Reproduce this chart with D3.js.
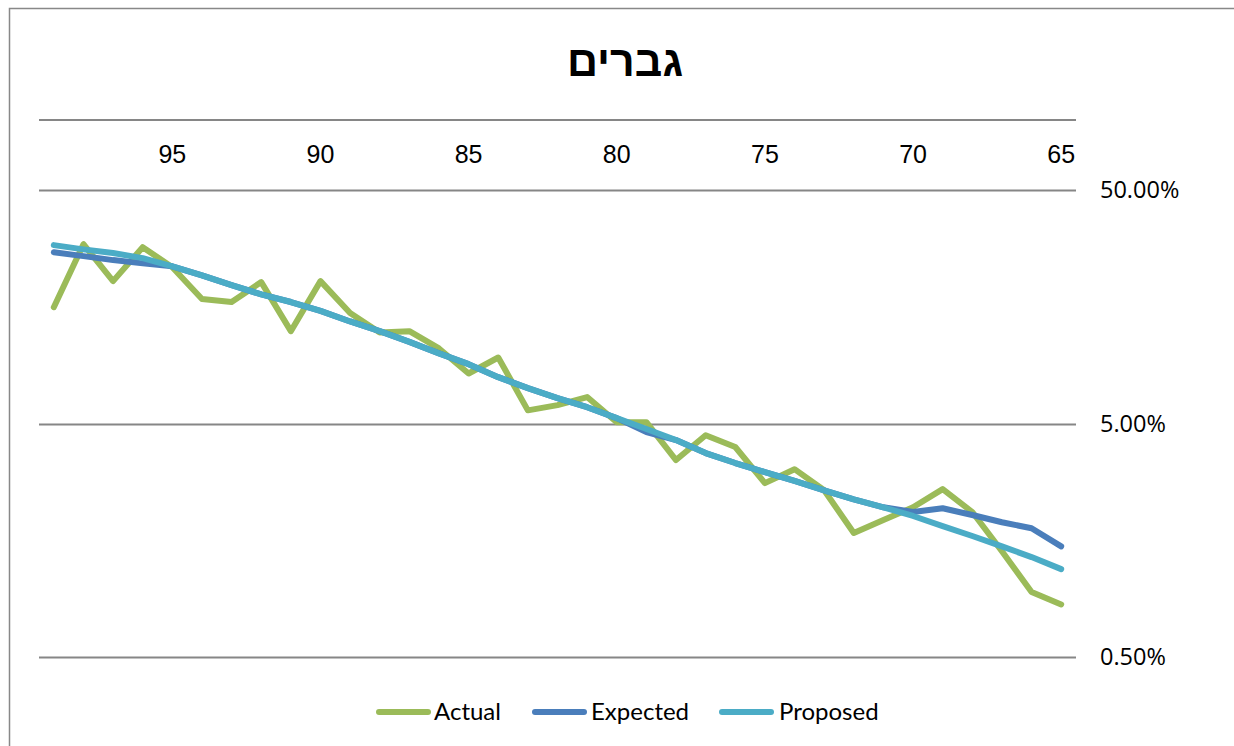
<!DOCTYPE html>
<html>
<head>
<meta charset="utf-8">
<script src="https://cdn.jsdelivr.net/npm/d3@7/dist/d3.min.js"></script>
<style>
  html, body { margin: 0; padding: 0; background: #fff; }
  svg { display: block; }
</style>
</head>
<body>
<svg id="chart" width="1234" height="746"></svg>
<script>
// Ages on the category axis (65 at the right, 99 at the left)
const ages = [65, 66, 67, 68, 69, 70, 71, 72, 73, 74, 75, 76, 77, 78, 79, 80, 81, 82,
              83, 84, 85, 86, 87, 88, 89, 90, 91, 92, 93, 94, 95, 96, 97, 98, 99];

// Mortality rates in percent, one value per age above
const actual = [0.84, 0.95, 1.42, 2.09, 2.62, 2.19, 1.93, 1.70, 2.59, 3.19, 2.78, 3.97,
                4.46, 3.49, 5.07, 5.07, 6.5, 6.0, 5.7, 9.6, 8.2, 10.5, 12.45, 12.3,
                14.9, 20.4, 12.45, 20.2, 16.6, 17.1, 23.4, 28.5, 20.4, 29.35, 15.77];
const expected = [1.49, 1.78, 1.89, 2.03, 2.17, 2.09, 2.19, 2.37, 2.59, 2.84, 3.10, 3.39,
                  3.74, 4.25, 4.60, 5.28, 5.88, 6.43, 7.10, 7.91, 8.99, 10.0, 11.2, 12.45,
                  13.7, 15.2, 16.6, 17.9, 19.6, 21.6, 23.6, 24.3, 25.1, 26.1, 27.1];
const proposed = [1.19, 1.34, 1.49, 1.65, 1.82, 2.01, 2.19, 2.37, 2.59, 2.84, 3.10, 3.39,
                  3.74, 4.25, 4.74, 5.28, 5.88, 6.43, 7.10, 7.91, 8.99, 10.0, 11.2, 12.45,
                  13.7, 15.2, 16.6, 17.9, 19.6, 21.6, 23.6, 25.6, 26.9, 27.9, 29.1];

const seriesNames = ["Actual", "Expected", "Proposed"];
const seriesColors = ["#9BBB59", "#4A7EBB", "#4BACC6"];
const xTickAges = [65, 70, 75, 80, 85, 90, 95];
const yTicks = [0.5, 5, 50];
const titleText = "גברים";

const svg = d3.select("#chart");
const plot = { left: 39, right: 1076, top: 120, bottom: 657 };

// Chart frame (top and left edges)
svg.append("path")
  .attr("d", "M9.5,746 V8.5 H1234")
  .attr("fill", "none").attr("stroke", "#888").attr("stroke-width", 1.5);

// Title
svg.append("text")
  .attr("x", 625).attr("y", 76)
  .attr("text-anchor", "middle")
  .attr("direction", "rtl")
  .style("font-family", "'Liberation Sans', Arial, sans-serif")
  .style("font-weight", "bold").style("font-size", "43px")
  .attr("fill", "#000")
  .text(titleText);

// Scales: category axis reversed so the oldest age is on the left
const x = d3.scaleBand()
  .domain(ages.slice().reverse())
  .range([plot.left, plot.right]);
const xc = a => x(a) + x.bandwidth() / 2;

const y = d3.scaleLog()
  .domain([0.5, 100])
  .range([plot.bottom, plot.top]);

// Horizontal gridlines
svg.append("g").selectAll("line")
  .data(yTicks).join("line")
  .attr("x1", plot.left).attr("x2", plot.right)
  .attr("y1", d => Math.round(y(d)) + 0.5).attr("y2", d => Math.round(y(d)) + 0.5)
  .attr("stroke", "#868686").attr("stroke-width", 2);

// Category axis line along the top of the plot
svg.append("line")
  .attr("x1", plot.left).attr("x2", plot.right)
  .attr("y1", plot.top).attr("y2", plot.top)
  .attr("stroke", "#868686").attr("stroke-width", 2);

// Category labels
svg.append("g").selectAll("text")
  .data(xTickAges).join("text")
  .attr("x", d => xc(d)).attr("y", 163)
  .attr("text-anchor", "middle")
  .style("font-family", "'Liberation Sans', Arial, sans-serif")
  .style("font-size", "25px")
  .attr("fill", "#000")
  .text(d => d);

// Value axis labels on the right
const pctFmt = d3.format(".2f");
svg.append("g").selectAll("text")
  .data(yTicks).join("text")
  .attr("x", 1100).attr("y", d => y(d) + 8)
  .attr("text-anchor", "start")
  .style("font-family", "'Open Sans', sans-serif")
  .style("font-size", "23.5px")
  .attr("fill", "#000")
  .text(d => pctFmt(d) + "%");

// Series lines
const series = [actual, expected, proposed];
const line = d3.line()
  .x((d, i) => xc(ages[i]))
  .y(d => y(d));

svg.append("g").selectAll("path")
  .data(series).join("path")
  .attr("d", d => line(d))
  .attr("fill", "none")
  .attr("stroke", (d, i) => seriesColors[i])
  .attr("stroke-width", 6)
  .attr("stroke-linejoin", "round")
  .attr("stroke-linecap", "round");

// Legend
const legendItems = [
  { lx: 379, tx: 434 },
  { lx: 535, tx: 591 },
  { lx: 722, tx: 779 }
];
const legend = svg.append("g");
seriesNames.forEach((name, i) => {
  const it = legendItems[i];
  legend.append("line")
    .attr("x1", it.lx).attr("x2", it.lx + 49)
    .attr("y1", 712).attr("y2", 712)
    .attr("stroke", seriesColors[i]).attr("stroke-width", 6)
    .attr("stroke-linecap", "round");
  legend.append("text")
    .attr("x", it.tx).attr("y", 720)
    .style("font-family", "Lato, 'Noto Sans', sans-serif")
    .style("font-size", "24px")
    .attr("fill", "#000")
    .text(name);
});
</script>
</body>
</html>
